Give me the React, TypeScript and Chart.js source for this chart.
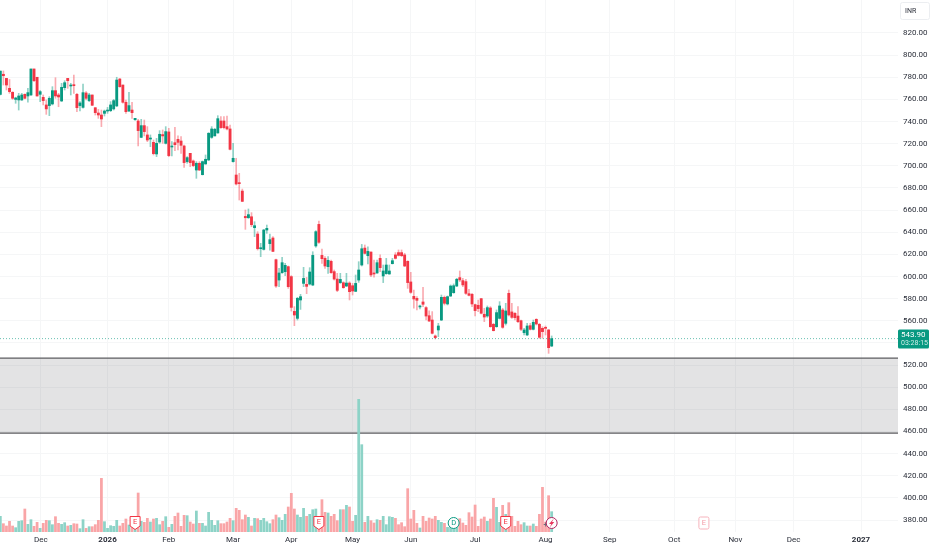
import React, { useEffect, useRef } from "react";
import { Chart, registerables } from "chart.js";

Chart.register(...registerables);

const opens = [764.6,782.7,779,770,766.4,760,759.5,759.5,764.6,763.1,764,787.5,780,764.6,761.9,755,754.4,755.9,767.9,764,758.6,770.6,779,772.1,773,764.6,754.4,752.8,765.8,758.9,764,752.5,747.7,745.9,747.4,749.5,749.8,751.4,754.1,778.4,773,757.4,749.5,750.4,741.7,740.5,725.7,736.3,727.9,724.2,721.2,710.7,721.5,728.2,720.3,730.6,717,720.9,723.9,722.4,717.9,703.8,711.3,704.4,696.2,702.3,692,701.7,705.3,725.7,727,729.7,740.5,740.5,735.4,733.3,703.8,691.7,684.5,677.2,654.3,653.1,654,644.1,638.4,625.1,624.5,642,629.7,634.8,615.2,596.8,603.5,604.4,608.9,599.9,568.5,562.2,578.8,593.8,592.9,593.2,592.3,627.6,647.1,619.1,616.4,608.9,613.7,604.4,597.7,594.4,594.4,591.4,594.1,591.7,586.6,596.8,610.4,625.7,618.8,622.1,602.9,603.2,616.4,600.5,602.6,602.3,611.6,619.5,621.6,621.6,619.5,613.7,595.1,582.1,580.3,572.5,577,571.9,564.6,560.7,546.3,551.7,560.7,581.2,575.2,582.4,585.4,591.4,599,596.3,595.4,584.5,583.9,574.6,574,580,565.9,564.3,571.6,556.8,554.7,562.2,569.8,557.7,584.8,568,566.8,564.3,560.1,549.3,547.2,555.6,552.3,561.3,556.8,553.2,554,551.7,537.2];
const highs = [785.7,785.7,779,778,767,762,765.5,765.5,765,770,787.5,787.5,780,767.9,764,759.5,762.5,771.5,779.6,765.5,774.5,776.9,779,774.5,782,765.5,758,773.9,767,765.5,764,752.5,751,750.4,750.4,752.8,758,760,780,779,773,759.5,766.4,757.4,743,742,742,741.4,735.4,727.9,723.3,724.8,731.8,732.4,735.4,733.9,721.8,734.8,727,726.4,718.8,708.3,711.3,705.3,703.8,703.8,704.4,709.8,730,735.4,733.9,745.3,744.4,744.4,745,736.9,720.3,706.8,693.2,679,660.1,661,657.7,649.5,640.5,630,642.6,646.5,638.4,636,615.8,607.4,617.3,611.9,609.5,600.8,572.8,581.2,583.9,608.3,599.2,608,622.4,641.4,650.1,624.8,617.9,617.9,614.9,605.9,602.9,602.9,595.3,602.9,595.3,593.8,601.4,613.4,629,628.5,626.9,622.4,614.9,614.9,619.5,610.4,616.4,610.4,616.4,621.6,624,624,621,614.3,603.8,587.8,581.8,574.3,590.2,572.8,568.9,568.3,547.2,557.7,583.3,582.4,582.4,592.4,593.3,598.4,605,598.4,597.5,588.4,584.8,575.2,578.8,580.3,571.3,573.4,572.8,557.7,569.8,577.3,571.3,575.8,587.8,575.8,567.4,572.8,560.7,553.2,557.7,557.7,560.7,561.9,557.7,554.7,555.3,552.3,546.3];
const lows = [764,773,768.5,765.5,760,756.5,750.4,759,760.5,757.4,763.5,776,763,758,755,746.5,745.3,755,761,753.4,758,768.5,770,764,765.5,748.9,749.5,752,759.5,758,754.4,745.9,742.9,735.4,745,747.4,748.9,750.4,753.4,770.9,756.5,747.4,748.9,742.9,741,717.9,725.4,727,721.8,717.3,709.8,708.3,720.3,720.3,719.7,708.3,708.9,713.7,714.3,711.3,698.6,702.3,699.2,699.2,688.7,695.6,691.7,701.4,704.7,724.8,727,729.4,733.9,733.3,732.4,714.3,703.2,682.7,669.1,667.6,642.6,652.5,645,636,623.9,617.9,623.9,639,623.9,622.4,590.2,590.8,602.9,600.8,589.3,568.8,555.6,560.7,570.3,590.8,584.5,592.3,591.7,626.4,630,611.9,607.4,602.9,602.9,596.8,586.3,593.8,589.3,590.8,578.8,583.3,586.3,594.7,609.5,620.3,611.3,599.9,599.3,602.9,604.4,594.5,602,602,611.3,615.8,618.5,618,608.9,589.3,584.8,571.3,569.8,570.7,572.8,560.7,559.2,548.1,543.6,545.7,560.1,574.3,574.3,581.8,584.8,590.8,595.4,590.8,583.9,582.4,572.8,564.3,568.3,566.2,559.2,563.1,554.1,550.8,554.1,561.6,553.2,556.2,564.3,562.2,560.7,558.3,551.1,547.2,546.6,551.7,551.7,556.2,544.2,544.2,547.2,530.6,536.6];
const closes = [785.7,781.4,773,767,761,761.3,763.1,764,761,766.1,787.5,776.9,763.1,767,758.9,751.4,761,767.9,763.1,762.2,770.9,775.1,776.9,773,772.4,752.5,756.8,766.1,761,764,754.7,748,745.9,742.3,749.5,750.4,755,758.9,777.5,771.5,757.4,748.9,754.4,748,742.9,731.8,736.3,730.9,723.3,724.8,711,720.3,728.5,727,730.9,709.2,717.9,719.1,721.2,718.5,702.9,707.4,702.9,700.2,702.3,696.2,703.8,705.9,729.4,733.3,733,742.6,734.5,734.5,733.3,714.9,706.8,683.6,683.9,667.9,653.1,655.9,646.8,645.9,625.1,625.7,642,643.5,633.3,622.7,591.4,603.2,612.5,610.1,590.8,572.1,565.2,580.3,581.8,598.3,591.1,604.1,619.1,640.5,630.9,616.1,609.5,614.6,603.5,597.7,587.5,597.4,589.9,594.1,586.3,586.9,593.8,605.9,625.1,620.9,622.7,601.4,602.3,612.5,608,605,610.4,605,614.3,616.4,619.1,618.8,609.5,594.5,585.7,579.7,578.5,573.4,574.9,564.3,559.8,548.7,544.8,555.3,581.2,575.8,581.8,591.4,591.7,597.5,596.9,592.4,584.8,583,575.2,569.2,571,566.8,563.4,571.9,554.7,551.1,567.4,573.4,554.1,568.9,565.3,563.1,562.8,559.2,552.3,551.7,555.3,552.3,558.6,557.1,545.1,550.2,553.2,535.7,543.9];
const volumes = [47,25,18,32,18,13,32,34,69,23,37,17,29,11,26,35,34,22,46,26,23,28,18,20,25,24,10,37,11,16,16,22,35,161,31,11,19,17,35,18,26,39,21,26,45,117,32,29,41,30,39,41,22,32,46,14,23,47,57,17,50,49,30,24,63,26,26,18,59,35,20,34,25,25,30,41,34,71,65,37,51,44,18,41,40,35,41,31,25,37,51,43,35,53,75,116,69,51,44,71,47,53,67,69,40,97,59,57,47,53,34,67,67,80,75,32,50,398,262,29,47,34,27,37,35,47,22,46,44,41,22,28,16,130,39,65,26,12,47,32,42,39,47,35,29,26,14,25,30,17,40,27,20,58,45,81,17,39,45,32,39,101,74,29,80,53,88,47,17,32,22,28,18,18,24,17,53,134,30,109,61];

const priceTicks = [820,800,780,760,740,720,700,680,660,640,620,600,580,560,540,520,500,480,460,440,420,400,380];
const monthTickIndex = [13.2,35,55,76,95,115,134,155,178,199,220,240,259,281];
const monthTickLabels = ["Dec","2026","Feb","Mar","Apr","May","Jun","Jul","Aug","Sep","Oct","Nov","Dec","2027"];
const earningsIndex = [44,104,165];
const dividendIndex = [148];
const splitIndex = [180];
const futureEarningsIndex = [229.7];
const lastPrice = 543.9;
const countdown = "03:28:15";
const currency = "INR";
const zoneTop = 526.3;
const zoneBottom = 458.6;

const UP = "#089981";
const DOWN = "#f23645";
const UP_WICK = "rgba(8,153,129,0.45)";
const DOWN_WICK = "rgba(242,54,69,0.42)";
const UP_VOL = "#8dd3c7";
const DOWN_VOL = "#f9a5a7";
const GRID = "#f5f6f7";
const TEXT = "#2a2e39";
const FONT = "Roboto, 'Liberation Sans', sans-serif";

const isUp = (i: number) => closes[i] >= opens[i];

const overlayBelow = {
  id: "zone",
  beforeDatasetsDraw(chart: any) {
    const { ctx, chartArea: a, scales } = chart;
    const t = scales.y.getPixelForValue(zoneTop);
    const b = scales.y.getPixelForValue(zoneBottom);
    ctx.save();
    ctx.fillStyle = "rgba(100,100,103,0.18)";
    ctx.fillRect(a.left, t, a.right - a.left, b - t);
    ctx.strokeStyle = "#5c5d61";
    ctx.lineWidth = 1.2;
    [t, b].forEach((y: number) => {
      ctx.beginPath();
      ctx.moveTo(a.left, y);
      ctx.lineTo(a.right, y);
      ctx.stroke();
    });
    ctx.restore();
  },
};

function shield(ctx: any, x: number, y: number, color: string) {
  ctx.beginPath();
  ctx.moveTo(x - 5, y - 6.5);
  ctx.lineTo(x + 5, y - 6.5);
  ctx.lineTo(x + 5, y + 3);
  ctx.lineTo(x, y + 6.5);
  ctx.lineTo(x - 5, y + 3);
  ctx.closePath();
  ctx.fillStyle = "#fff";
  ctx.fill();
  ctx.strokeStyle = color;
  ctx.lineWidth = 1;
  ctx.stroke();
  ctx.fillStyle = color;
  ctx.font = `7.5px ${FONT}`;
  ctx.textAlign = "center";
  ctx.textBaseline = "middle";
  ctx.fillText("E", x, y - 0.5);
}

const overlayAbove = {
  id: "marks",
  afterDraw(chart: any) {
    const { ctx, chartArea: a, scales, width } = chart;
    const yMark = a.bottom - 9;
    ctx.save();
    const py = scales.y.getPixelForValue(lastPrice);
    ctx.strokeStyle = UP;
    ctx.globalAlpha = 0.6;
    ctx.setLineDash([1, 2]);
    ctx.lineWidth = 1;
    ctx.beginPath();
    ctx.moveTo(a.left, py);
    ctx.lineTo(a.right, py);
    ctx.stroke();
    ctx.setLineDash([]);
    ctx.globalAlpha = 1;

    earningsIndex.forEach((i) => shield(ctx, scales.x.getPixelForValue(i), yMark, DOWN));

    dividendIndex.forEach((i) => {
      const x = scales.x.getPixelForValue(i);
      ctx.beginPath();
      ctx.arc(x, yMark, 5.5, 0, Math.PI * 2);
      ctx.fillStyle = "#fff";
      ctx.fill();
      ctx.strokeStyle = UP;
      ctx.lineWidth = 1;
      ctx.stroke();
      ctx.fillStyle = UP;
      ctx.font = `7.5px ${FONT}`;
      ctx.textAlign = "center";
      ctx.textBaseline = "middle";
      ctx.fillText("D", x, yMark + 0.3);
    });

    splitIndex.forEach((i) => {
      const x = scales.x.getPixelForValue(i);
      ctx.fillStyle = "#6a6d78";
      ctx.font = `bold 8px ${FONT}`;
      ctx.textAlign = "center";
      ctx.textBaseline = "middle";
      ctx.fillText("+", x - 6, yMark + 1.5);
      ctx.beginPath();
      ctx.arc(x, yMark, 5.5, 0, Math.PI * 2);
      ctx.fillStyle = "#fff";
      ctx.fill();
      ctx.strokeStyle = "#b0235f";
      ctx.lineWidth = 1;
      ctx.stroke();
      ctx.fillStyle = "#e8365d";
      ctx.beginPath();
      ctx.moveTo(x + 2.2, yMark - 4.4);
      ctx.lineTo(x - 2.6, yMark + 1);
      ctx.lineTo(x - 0.3, yMark + 1);
      ctx.lineTo(x - 2, yMark + 4.4);
      ctx.lineTo(x + 2.6, yMark - 1);
      ctx.lineTo(x + 0.3, yMark - 1);
      ctx.closePath();
      ctx.fill();
    });

    futureEarningsIndex.forEach((i) => {
      const x = scales.x.getPixelForValue(i);
      ctx.fillStyle = "#fff";
      ctx.strokeStyle = "#f6b3bc";
      ctx.lineWidth = 1;
      ctx.beginPath();
      ctx.roundRect(x - 5, yMark - 6, 10, 12, 1.5);
      ctx.fill();
      ctx.stroke();
      ctx.fillStyle = "#f39aa6";
      ctx.font = `7.5px ${FONT}`;
      ctx.textAlign = "center";
      ctx.textBaseline = "middle";
      ctx.fillText("E", x, yMark + 0.3);
    });

    ctx.fillStyle = UP;
    ctx.beginPath();
    ctx.roundRect(a.right, py - 9, 31, 19, 1.5);
    ctx.fill();
    ctx.textAlign = "left";
    ctx.textBaseline = "middle";
    ctx.fillStyle = "#fff";
    ctx.font = `8px ${FONT}`;
    ctx.fillText(lastPrice.toFixed(2), a.right + 3, py - 3.6);
    ctx.fillStyle = "#cfeee8";
    ctx.font = `7px ${FONT}`;
    ctx.fillText(countdown, a.right + 3, py + 5);

    ctx.fillStyle = "#fff";
    ctx.strokeStyle = "#eceef1";
    ctx.lineWidth = 1;
    ctx.beginPath();
    ctx.roundRect(width - 31.5, 2.5, 29, 17, 2);
    ctx.fill();
    ctx.stroke();
    ctx.fillStyle = TEXT;
    ctx.font = `7px ${FONT}`;
    ctx.fillText(currency, width - 27, 11.5);
    ctx.restore();
  },
};

const noEdgePadding = (axis: any) => {
  axis.paddingTop = 0;
  axis.paddingBottom = 0;
  axis.paddingLeft = 0;
  axis.paddingRight = 0;
};

export default function App() {
  const ref = useRef<HTMLCanvasElement | null>(null);
  useEffect(() => {
    document.body.style.margin = "0";
    document.body.style.background = "#fff";
    const idx = opens.map((_, i) => i);
    const chart = new Chart(ref.current as HTMLCanvasElement, {
      type: "bar",
      data: {
        datasets: [
          {
            label: "Candle body",
            yAxisID: "y",
            order: 1,
            grouped: false,
            barThickness: 2.2,
            minBarLength: 1,
            data: idx.map((i) => ({ x: i, y: [opens[i], closes[i]] })),
            backgroundColor: idx.map((i) => (isUp(i) ? UP : DOWN)),
          },
          {
            label: "Candle wick",
            yAxisID: "y",
            order: 2,
            grouped: false,
            barThickness: 1,
            data: idx.map((i) => ({ x: i, y: [lows[i], highs[i]] })),
            backgroundColor: idx.map((i) => (isUp(i) ? UP_WICK : DOWN_WICK)),
          },
          {
            label: "Volume",
            yAxisID: "vol",
            order: 3,
            grouped: false,
            barThickness: 2.1,
            data: idx.map((i) => ({ x: i, y: volumes[i] })),
            backgroundColor: idx.map((i) => (isUp(i) ? UP_VOL : DOWN_VOL)),
          },
        ] as any,
      },
      plugins: [overlayBelow, overlayAbove],
      options: {
        responsive: false,
        animation: false,
        layout: { padding: 0 },
        plugins: { legend: { display: false }, tooltip: { enabled: false } },
        scales: {
          x: {
            type: "linear",
            offset: false,
            min: -0.108,
            max: 293.07,
            border: { display: false },
            grid: { color: GRID, drawTicks: false, offset: false },
            afterBuildTicks: (axis: any) => {
              axis.ticks = monthTickIndex.map((value) => ({ value }));
            },
            afterFit: (axis: any) => {
              axis.height = 18;
              noEdgePadding(axis);
            },
            ticks: {
              autoSkip: false,
              maxRotation: 0,
              padding: 3,
              color: TEXT,
              font: (ctx: any) => ({
                family: FONT,
                size: 8,
                weight: ctx.tick && /^\d/.test(String(ctx.tick.label)) ? "bold" : "normal",
              }),
              callback: (v: any) => monthTickLabels[monthTickIndex.indexOf(v)] ?? "",
            },
          },
          y: {
            type: "linear",
            position: "right",
            min: 369.2,
            max: 849.8,
            border: { display: false },
            grid: { color: GRID, drawTicks: false },
            afterBuildTicks: (axis: any) => {
              axis.ticks = priceTicks.map((value) => ({ value }));
            },
            afterFit: (axis: any) => {
              axis.width = 34;
              noEdgePadding(axis);
            },
            ticks: {
              autoSkip: false,
              padding: 5,
              color: TEXT,
              font: { family: FONT, size: 8 },
              callback: (v: any) => (v === 540 ? "" : Number(v).toFixed(2)),
            },
          },
          vol: {
            type: "linear",
            display: false,
            min: 0,
            max: 1596,
          },
        },
      } as any,
    });
    return () => chart.destroy();
  }, []);
  return <canvas ref={ref} width={932} height={550} style={{ display: "block" }} />;
}
